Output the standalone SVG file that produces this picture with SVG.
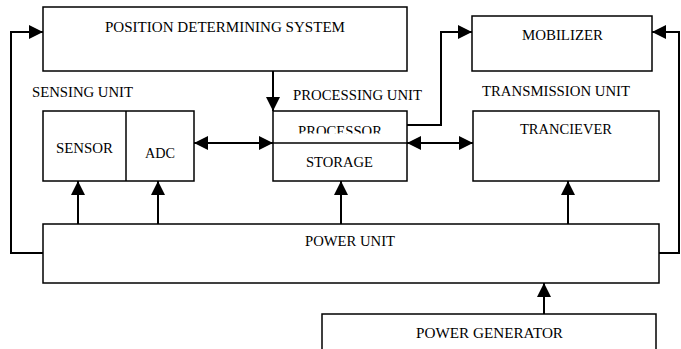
<svg xmlns="http://www.w3.org/2000/svg" width="681" height="349" viewBox="0 0 681 349">
<style>
.box{fill:#fff;stroke:#000;stroke-width:1.5}
.ln{fill:none;stroke:#000;stroke-width:2}
.t{font-family:"Liberation Serif","Times New Roman",serif;font-size:14.5px;fill:#000}
</style>
<defs>
<marker id="ah" markerUnits="userSpaceOnUse" markerWidth="14" markerHeight="14" refX="14" refY="7" orient="auto-start-reverse">
<path d="M0,0 L14,7 L0,14 Z" fill="#000"/>
</marker>
<clipPath id="pclip"><rect x="274" y="112" width="132" height="21.5"/></clipPath>
</defs>
<rect width="681" height="349" fill="#fff"/>
<g id="connectors">
<polyline class="ln" points="43,253 11,253 11,32 43,32" marker-end="url(#ah)"/>
<polyline class="ln" points="659,253 679,253 679,32 652,32" marker-end="url(#ah)"/>
<polyline class="ln" points="407,125 441,125 441,32 472,32" marker-end="url(#ah)"/>
<line class="ln" x1="273" y1="71" x2="273" y2="111" marker-end="url(#ah)"/>
<line class="ln" x1="194" y1="143" x2="273" y2="143" marker-start="url(#ah)" marker-end="url(#ah)"/>
<line class="ln" x1="407" y1="143" x2="473" y2="143" marker-start="url(#ah)" marker-end="url(#ah)"/>
<line class="ln" x1="78" y1="224" x2="78" y2="181" marker-end="url(#ah)"/>
<line class="ln" x1="158" y1="224" x2="158" y2="181" marker-end="url(#ah)"/>
<line class="ln" x1="341" y1="224" x2="341" y2="181" marker-end="url(#ah)"/>
<line class="ln" x1="568" y1="224" x2="568" y2="181" marker-end="url(#ah)"/>
<line class="ln" x1="544" y1="314" x2="544" y2="283" marker-end="url(#ah)"/>
</g>
<g id="pds">
<rect class="box" x="43" y="7" width="364" height="64"/>
<text class="t" x="105" y="32" textLength="240" lengthAdjust="spacingAndGlyphs">POSITION DETERMINING SYSTEM</text>
</g>
<g id="mobilizer">
<rect class="box" x="472" y="16" width="180" height="55"/>
<text class="t" x="522" y="40" textLength="81" lengthAdjust="spacingAndGlyphs">MOBILIZER</text>
</g>
<g id="labels">
<text class="t" x="32" y="97" textLength="101" lengthAdjust="spacingAndGlyphs">SENSING UNIT</text>
<text class="t" x="293" y="100" textLength="129" lengthAdjust="spacingAndGlyphs">PROCESSING UNIT</text>
<text class="t" x="482" y="96" textLength="148" lengthAdjust="spacingAndGlyphs">TRANSMISSION UNIT</text>
</g>
<g id="sensing">
<rect class="box" x="43" y="111" width="151" height="70"/>
<line class="box" x1="126" y1="111" x2="126" y2="181"/>
<text class="t" x="56" y="153" textLength="57" lengthAdjust="spacingAndGlyphs">SENSOR</text>
<text class="t" x="145" y="158" textLength="30" lengthAdjust="spacingAndGlyphs">ADC</text>
</g>
<g id="processing">
<rect class="box" x="273" y="111" width="134" height="70"/>
<line class="box" x1="273" y1="143" x2="407" y2="143"/>
<text class="t" x="298" y="136" textLength="84" lengthAdjust="spacingAndGlyphs" clip-path="url(#pclip)">PROCESSOR</text>
<text class="t" x="306" y="167" textLength="67" lengthAdjust="spacingAndGlyphs">STORAGE</text>
</g>
<g id="tranciever">
<rect class="box" x="473" y="111" width="186" height="70"/>
<text class="t" x="520" y="134" textLength="92" lengthAdjust="spacingAndGlyphs">TRANCIEVER</text>
</g>
<g id="power-unit">
<rect class="box" x="43" y="224" width="616" height="59"/>
<text class="t" x="305" y="246" textLength="90" lengthAdjust="spacingAndGlyphs">POWER UNIT</text>
</g>
<g id="power-generator">
<rect class="box" x="322" y="314" width="334" height="50"/>
<text class="t" x="416" y="338" textLength="147" lengthAdjust="spacingAndGlyphs">POWER GENERATOR</text>
</g>
</svg>
